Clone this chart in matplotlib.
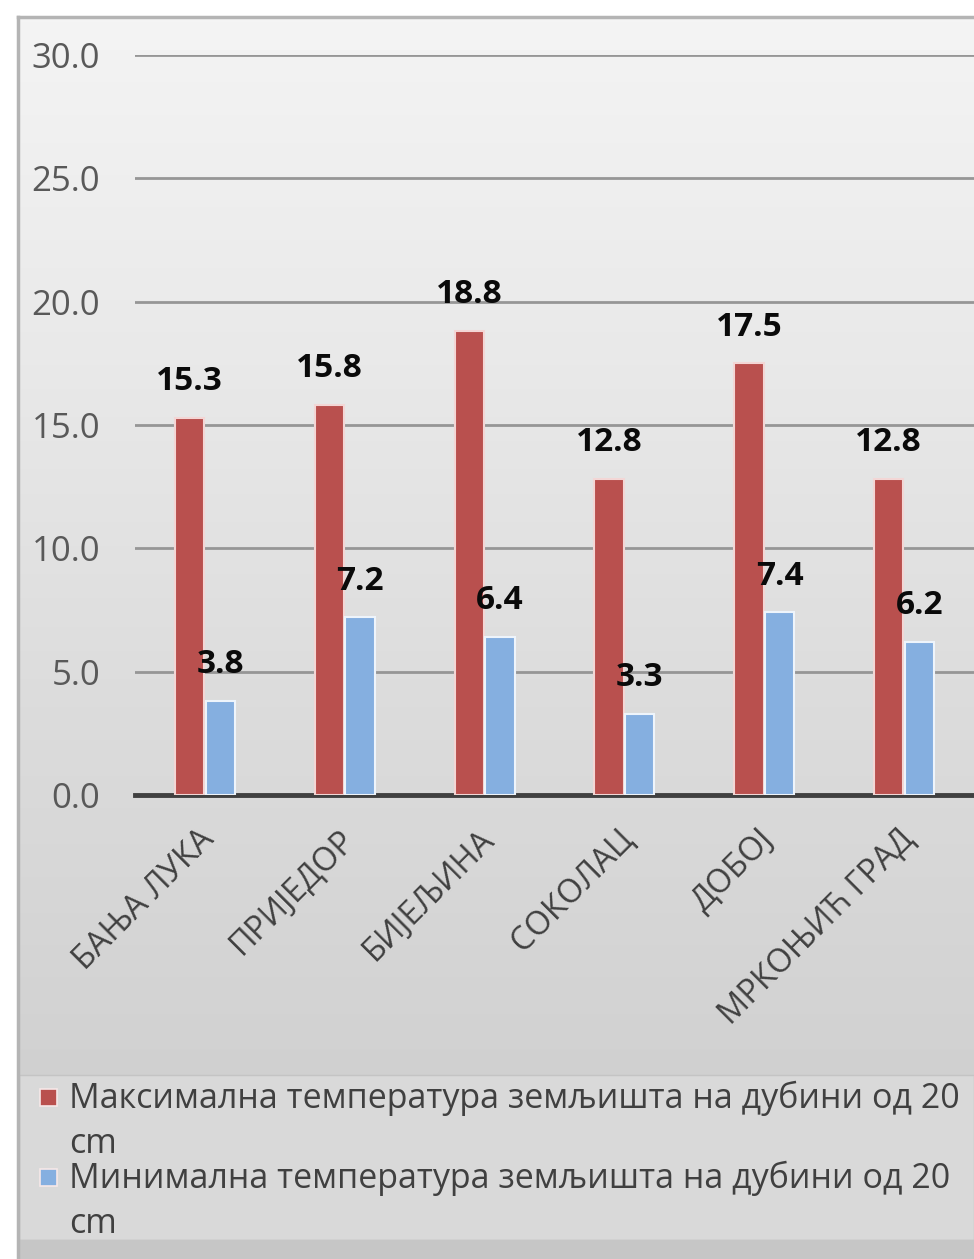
import numpy as np
import matplotlib
matplotlib.use("Agg")
import matplotlib.pyplot as plt
from matplotlib.patches import Rectangle

# DATA
stations = ["БАЊА ЛУКА", "ПРИЈЕДОР", "БИЈЕЉИНА", "СОКОЛАЦ", "ДОБОЈ", "МРКОЊИЋ ГРАД"]
max_temp = [15.3, 15.8, 18.8, 12.8, 17.5, 12.8]
min_temp = [3.8, 7.2, 6.4, 3.3, 7.4, 6.2]
series_names = ["Максимална температура земљишта на дубини од 20 cm",
                "Минимална температура земљишта на дубини од 20 cm"]
y_ticks = [0, 5, 10, 15, 20, 25, 30]

RED = "#b9504e"
BLUE = "#85afe0"
FONT = ["Open Sans", "DejaVu Sans"]

plt.rcParams["font.family"] = FONT

W, H = 974, 1259
fig = plt.figure(figsize=(W / 100, H / 100), dpi=100)
fig.patch.set_facecolor("white")

# background: chart frame with vertical gradient
bg = fig.add_axes([0, 0, 1, 1], zorder=0)
bg.set_xlim(0, W)
bg.set_ylim(H, 0)
bg.axis("off")
grad = np.linspace(0, 1, 256).reshape(-1, 1)
cmap = matplotlib.colors.LinearSegmentedColormap.from_list(
    "bg", ["#f4f4f4", "#e9e9e9", "#dcdcdc", "#d2d2d2"])
bg.imshow(grad, cmap=cmap, aspect="auto", extent=(19, W, 1050, 18), zorder=0)
bg.add_patch(Rectangle((19, 1050), W - 19, 25, color="#d0d0d0", zorder=1))
bg.add_patch(Rectangle((19, 1075), W - 19, 165, facecolor="#d9d9d9",
                       edgecolor="#c4c4c4", lw=1, zorder=1))
bg.add_patch(Rectangle((19, 1240), W - 19, 19, color="#c6c6c6", zorder=1))
bg.plot([18, 18], [17, H], color="#b4b4b4", lw=2.5, zorder=2)
bg.plot([18, W], [17, 17], color="#b4b4b4", lw=2.5, zorder=2)

# legend, drawn by hand: the long labels wrap "cm" onto a second line
legend_colors = [RED, BLUE]
for i, (name, col) in enumerate(zip(series_names, legend_colors)):
    base = 1108 + i * 80
    first, last = name.rsplit(" ", 1)
    bg.add_patch(Rectangle((40, base - 19), 17, 17, facecolor=col,
                           edgecolor="#f6e8e8", lw=1.2, zorder=3))
    bg.text(69, base, first, ha="left", va="baseline", fontsize=24.5,
            color="#404040", zorder=3)
    bg.text(69, base + 45, last, ha="left", va="baseline", fontsize=24.5,
            color="#404040", zorder=3)

# main chart
ax = fig.add_axes([135 / W, 1 - 795 / H, 1 - 135 / W, (795 - 55) / H], zorder=1)
ax.patch.set_alpha(0)
x = np.arange(len(stations))
bw = 0.21
b1 = ax.bar(x - 0.11, max_temp, bw, color=RED, edgecolor="#f3d6d5", lw=1.5, zorder=3)
b2 = ax.bar(x + 0.11, min_temp, bw, color=BLUE, edgecolor="#eef4fb", lw=1.5, zorder=3)

for bars, vals in ((b1, max_temp), (b2, min_temp)):
    for rect, v in zip(bars, vals):
        ax.annotate(f"{v:.1f}", (rect.get_x() + rect.get_width() / 2, v),
                    xytext=(0, 20), textcoords="offset points",
                    ha="center", va="baseline", fontsize=24, fontweight="bold",
                    color="#0a0a0a", zorder=5)

ax.set_xlim(-0.5, 5.5)
ax.set_ylim(0, 30)
ax.set_yticks(y_ticks)
ax.set_yticklabels([f"{t:.1f}" for t in y_ticks])
ax.yaxis.grid(True, color="#969696", lw=2)
ax.set_axisbelow(True)
for s in ("top", "right", "left"):
    ax.spines[s].set_visible(False)
ax.spines["bottom"].set_color("#404040")
ax.spines["bottom"].set_linewidth(3.5)
ax.tick_params(axis="y", length=0, pad=25, labelsize=25, labelcolor="#595959")
ax.tick_params(axis="x", length=0, pad=20, labelsize=23.5, labelcolor="#404040")
ax.set_xticks(x - 0.05)
ax.set_xticklabels(stations, rotation=45, ha="right", rotation_mode="anchor")

fig.savefig("out.png", dpi=100)
